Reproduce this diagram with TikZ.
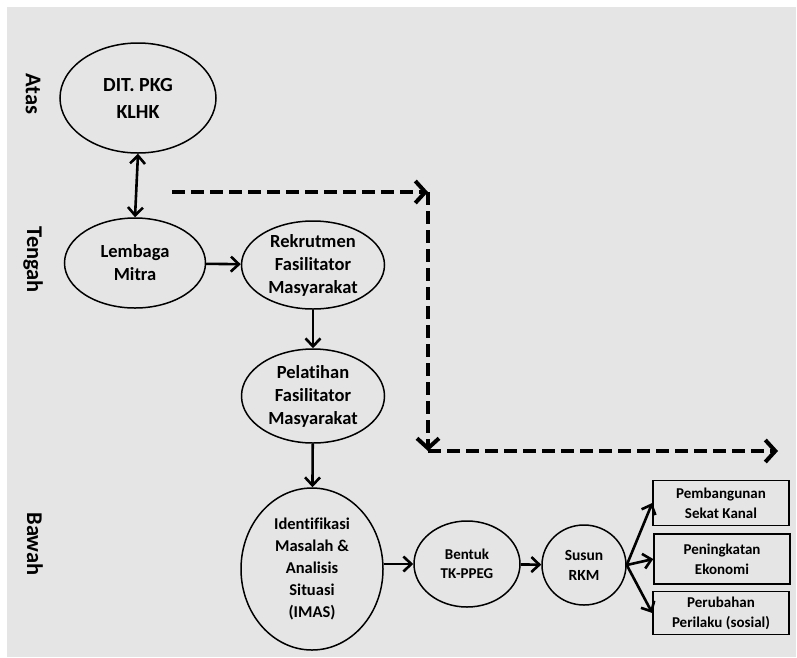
\documentclass[tikz,border=0pt]{standalone}
\usepackage{fontspec}
\setmainfont{Carlito}[Ligatures=NoCommon]
\usetikzlibrary{shapes, arrows.meta, positioning}
\definecolor{panel}{HTML}{E5E5E5}
\tikzset{
    stage/.style={ellipse, draw, line width=1.5pt, align=center, inner sep=0pt, font=\bfseries\fontsize{18.5}{23}\selectfont},
    outcome/.style={rectangle, draw, line width=1.5pt, align=center, minimum width=136pt, minimum height=45pt, font=\bfseries\fontsize{15}{20}\selectfont},
    level/.style={rotate=-90, font=\bfseries\fontsize{22.5}{24}\selectfont},
    arrow/.style={line width=2.6pt, ->, >={Straight Barb[length=8pt, width=15pt]}},
    flow/.style={line width=4pt, dash pattern=on 13pt off 6pt, ->, >={Straight Barb[length=10pt, width=22pt]}}
}
\begin{document}
\begin{tikzpicture}[x=1pt, y=-1pt]
        \useasboundingbox (0,0) rectangle (797,657);
        \fill[panel] (7,7) rectangle (796,657);

        % levels
        \node (Atas) [level] at (33, 94) {Atas};
        \node (Tengah) [level] at (33, 260) {Tengah};
        \node (Bawah) [level] at (35, 544) {Bawah};

        % stages
        \node (Dit) [stage, minimum width=156pt, minimum height=110pt, font=\bfseries\fontsize{20}{27}\selectfont] at (138, 98) {DIT. PKG\\KLHK};
        \node (Mitra) [stage, minimum width=141pt, minimum height=90pt] at (135, 263) {Lembaga\\Mitra};
        \node (Rekrut) [stage, minimum width=143pt, minimum height=88pt] at (313, 265) {Rekrutmen\\Fasilitator\\Masyarakat};
        \node (Latih) [stage, minimum width=143pt, minimum height=94pt] at (313, 396) {Pelatihan\\Fasilitator\\Masyarakat};
        \node (Imas) [stage, minimum width=142pt, minimum height=162pt, font=\bfseries\fontsize{16.5}{22}\selectfont] at (312, 569) {Identifikasi\\Masalah \&\\Analisis\\Situasi\\(IMAS)};
        \node (Bentuk) [stage, minimum width=106pt, minimum height=86pt, font=\bfseries\fontsize{15}{18.5}\selectfont] at (467, 564) {Bentuk\\TK-PPEG};
        \node (Susun) [stage, minimum width=84pt, minimum height=80pt, font=\bfseries\fontsize{15.5}{20}\selectfont] at (584, 565) {Susun\\RKM};

        % outcomes
        \node (Kanal) [outcome] at (721, 503) {Pembangunan\\Sekat Kanal};
        \node (Ekonomi) [outcome, minimum height=50pt] at (722, 559) {Peningkatan\\Ekonomi};
        \node (Sosial) [outcome, minimum height=43pt] at (721, 613) {Perubahan\\Perilaku (sosial)};

        % connectors
        \draw[arrow, <->] (Dit.south) -- (Mitra.north);
        \draw[arrow] (Mitra) -- (Rekrut);
        \draw[arrow] (Rekrut) -- (Latih);
        \draw[arrow] (Latih) -- (Imas);
        \draw[arrow] (Imas.east |- Bentuk.west) -- (Bentuk.west);
        \draw[arrow] (Bentuk) -- (Susun);
        \draw[arrow] (Susun.east) -- (Kanal.west);
        \draw[arrow] (Susun.east) -- (Ekonomi.west);
        \draw[arrow] (Susun.east) -- (Sosial.west);

        % dashed path
        \coordinate (DashStart) at (172, 192);
        \coordinate (TurnA) at (428, 192);
        \coordinate (TurnB) at (428, 451);
        \coordinate (DashEnd) at (778, 451);
        \draw[flow] (DashStart) -- (TurnA);
        \draw[flow] (TurnA) -- (TurnB);
        \draw[flow] (TurnB) -- (DashEnd);
\end{tikzpicture}
\end{document}
